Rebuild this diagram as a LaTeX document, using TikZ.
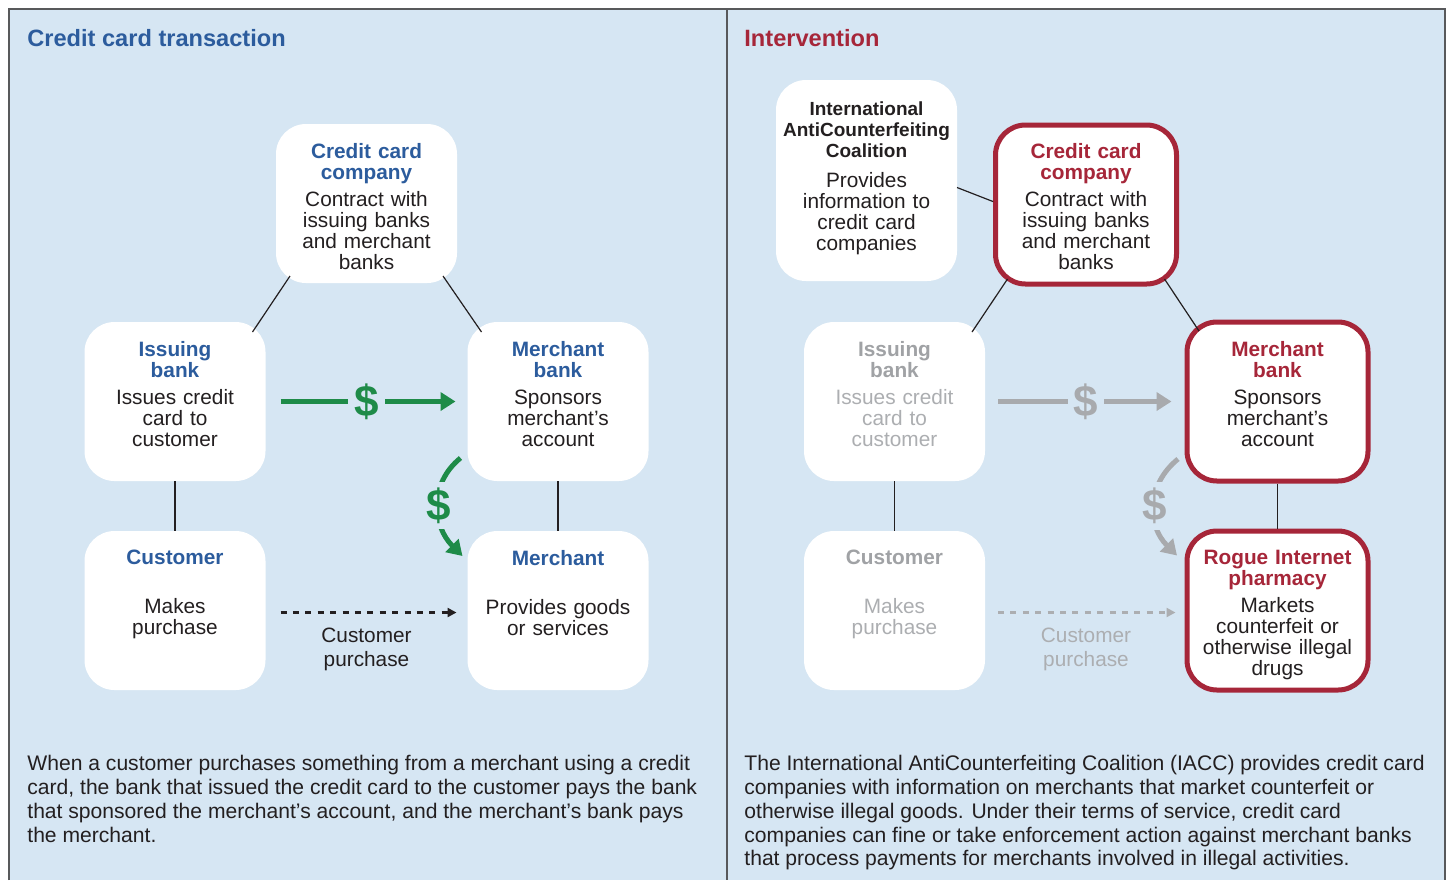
\documentclass[tikz,border=0pt]{standalone}
\usepackage{fontspec}
\setmainfont{Liberation Sans}
\usetikzlibrary{positioning,calc,arrows.meta}

\definecolor{panelbg}{RGB}{214,230,243}
\definecolor{ccblue}{RGB}{44,92,157}
\definecolor{ivred}{RGB}{166,38,57}
\definecolor{cashgreen}{RGB}{30,139,72}
\definecolor{fadehead}{RGB}{160,162,165}
\definecolor{fadetext}{RGB}{172,174,177}
\definecolor{fadeline}{RGB}{168,170,173}
\definecolor{framegray}{RGB}{88,89,91}
\definecolor{ink}{RGB}{35,31,32}

\newcommand{\boxfont}{\fontsize{10.4pt}{10.5pt}\selectfont}
\newcommand{\boxhead}[2]{{\bfseries\color{#1}#2}}

\begin{document}
\begin{tikzpicture}[x=0.5pt,y=-0.5pt,
    box/.style={fill=white,rounded corners=15pt,minimum width=90.5pt,minimum height=79.5pt,inner sep=0pt,outer sep=0pt},
    red box/.style={box,draw=ivred,line width=2.5pt},
    box text/.style={align=center,text width=88pt,inner sep=0pt,font=\boxfont,text=ink},
    link/.style={draw=ink,line width=0.6pt},
    dollar/.style={fill=panelbg,inner sep=3pt,font=\fontsize{22pt}{22pt}\selectfont\bfseries},
    cash/.style={line width=2.5pt,-{Triangle[length=7.5pt,width=9pt]}},
    buy/.style={line width=1.1pt,dash pattern=on 3pt off 3.2pt,-{Triangle[length=4.5pt,width=4.5pt]}},
    buy text/.style={align=center,inner sep=0pt,font=\fontsize{10.4pt}{12pt}\selectfont},
    title/.style={anchor=west,inner sep=0pt,font=\fontsize{11.8pt}{14pt}\selectfont\bfseries},
    caption/.style={anchor=north west,align=left,inner sep=0pt,text=ink,font=\fontsize{10.55pt}{11.9pt}\selectfont}]

    \useasboundingbox (0,0) rectangle (1449,880);

    % Panels
    \fill[panelbg] (9,9) rectangle (1445,880);
    \draw[framegray,line width=1pt] (9,880) -- (9,9) -- (1445,9) -- (1445,880);
    \draw[framegray,line width=1pt] (727,9) -- (727,880);

    \node[title,text=ccblue] (ttl1) at (27,38) {Credit card transaction};
    \node[title,text=ivred] (ttl2) at (744,38) {Intervention};

    % Define vertices (left)
    \node[box] (ib) at (175,401.5) {};
    \node[box,right=101pt of ib] (mb) {};
    \node[box,below=25pt of ib] (cu) {};
    \node[box,below=25pt of mb] (me) {};
    \coordinate (top1) at ($(ib.north)!0.5!(mb.north)$);
    \node[box,above=19.5pt of top1] (cc) {};

    \node[box text,below=9.5pt of cc.north] (cct) {\boxhead{ccblue}{Credit card\\company}\\[3pt]Contract with\\issuing banks\\and merchant\\banks};
    \node[box text,below=9.5pt of ib.north] (ibt) {\boxhead{ccblue}{Issuing\\bank}\\[3pt]Issues credit\\card to\\customer};
    \node[box text,below=9.5pt of mb.north] (mbt) {\boxhead{ccblue}{Merchant\\bank}\\[3pt]Sponsors\\merchant’s\\account};
    \node[box text,below=9.5pt of cu.north] (cut) {\boxhead{ccblue}{Customer}\\[14pt]Makes\\purchase};
    \node[box text,below=9.5pt of me.north] (met) {\boxhead{ccblue}{Merchant}\\[14pt]Provides goods\\or services};

    % Draw edges (left)
    \path[link]
        ($(cc.south west)+(14,-7)$) edge ($(ib.north east)+(-13,10)$)
        ($(cc.south east)+(-14,-7)$) edge ($(mb.north west)+(14,10)$)
        (ib) edge (cu)
        (mb) edge (me);

    \draw[cash,cashgreen,shorten <=7.5pt,shorten >=6pt] (ib) -- node[dollar,text=cashgreen] {\$} (mb);
    \draw[cash,cashgreen] ($(mb.south west)+(-7,-23)$) .. controls +(-32,26) and +(-30,-30) ..
        node[dollar,text=cashgreen] {\$} ($(me.north west)+(-5,25)$);
    \draw[buy,ink,shorten <=7.5pt,shorten >=5.5pt] ([yshift=-1pt]cu.east) -- node[buy text,below=7pt,text=ink] {Customer\\purchase} ([yshift=-1pt]me.west);

    % Define vertices (right)
    \node[box] (ib2) at (894.5,401.5) {};
    \node[red box,right=101pt of ib2] (mb2) {};
    \node[box,below=25pt of ib2] (cu2) {};
    \node[red box,below=25pt of mb2] (rp) {};
    \coordinate (top2) at ($(ib2.north)!0.5!(mb2.north)$);
    \node[red box,above=19pt of top2] (cc2) {};
    \node[box,minimum height=100.5pt] (iacc) at (866.5,180.5) {};

    \node[box text,below=10.5pt of iacc.north] (iacct) {{\fontsize{9.5pt}{10.5pt}\selectfont\boxhead{ink}{International\\AntiCounterfeiting\\Coalition}}\\[4.5pt]Provides\\information to\\credit card\\companies};
    \node[box text,below=9pt of cc2.north] (cc2t) {\boxhead{ivred}{Credit card\\company}\\[3pt]Contract with\\issuing banks\\and merchant\\banks};
    \node[box text,below=9.5pt of ib2.north,text=fadetext] (ib2t) {\boxhead{fadehead}{Issuing\\bank}\\[3pt]Issues credit\\card to\\customer};
    \node[box text,below=9.5pt of mb2.north] (mb2t) {\boxhead{ivred}{Merchant\\bank}\\[3pt]Sponsors\\merchant’s\\account};
    \node[box text,below=9.5pt of cu2.north,text=fadetext] (cu2t) {\boxhead{fadehead}{Customer}\\[14pt]Makes\\purchase};
    \node[box text,below=9.5pt of rp.north] (rpt) {\boxhead{ivred}{Rogue Internet\\pharmacy}\\[3pt]Markets\\counterfeit or\\otherwise illegal\\drugs};

    % Draw edges (right)
    \path[link]
        ($(iacc.east)+(0,7)$) edge[shorten >=1.25pt] ($(cc2.west)+(0,-2)$)
        ($(cc2.south west)+(12,-5)$) edge ($(ib2.north east)+(-13,10)$)
        ($(cc2.south east)+(-12,-5)$) edge ($(mb2.north west)+(12,9)$)
        (ib2) edge (cu2)
        (mb2) edge[shorten <=1.25pt,shorten >=1.25pt] (rp);

    \draw[cash,fadeline,shorten <=6.5pt,shorten >=7.75pt] (ib2) -- node[dollar,text=fadeline] {\$} (mb2);
    \draw[cash,fadeline] ($(mb2.south west)+(-9,-22)$) .. controls +(-32,26) and +(-30,-30) ..
        node[dollar,text=fadeline] {\$} ($(rp.north west)+(-10,24.5)$);
    \draw[buy,fadetext,shorten <=6.5pt,shorten >=5.75pt] ([yshift=-1pt]cu2.east) -- node[buy text,below=7pt,text=fadetext] {Customer\\purchase} ([yshift=-1pt]rp.west);

    % Captions
    \node[caption] (capl) at (27,755) {When a customer purchases something from a merchant using a credit\\card, the bank that issued the credit card to the customer pays the bank\\that sponsored the merchant’s account, and the merchant’s bank pays\\the merchant.};
    \node[caption] (capr) at (744,755) {The International AntiCounterfeiting Coalition (IACC) provides credit card\\companies with information on merchants that market counterfeit or\\otherwise illegal goods. Under their terms of service, credit card\\companies can fine or take enforcement action against merchant banks\\that process payments for merchants involved in illegal activities.};

\end{tikzpicture}
\end{document}
